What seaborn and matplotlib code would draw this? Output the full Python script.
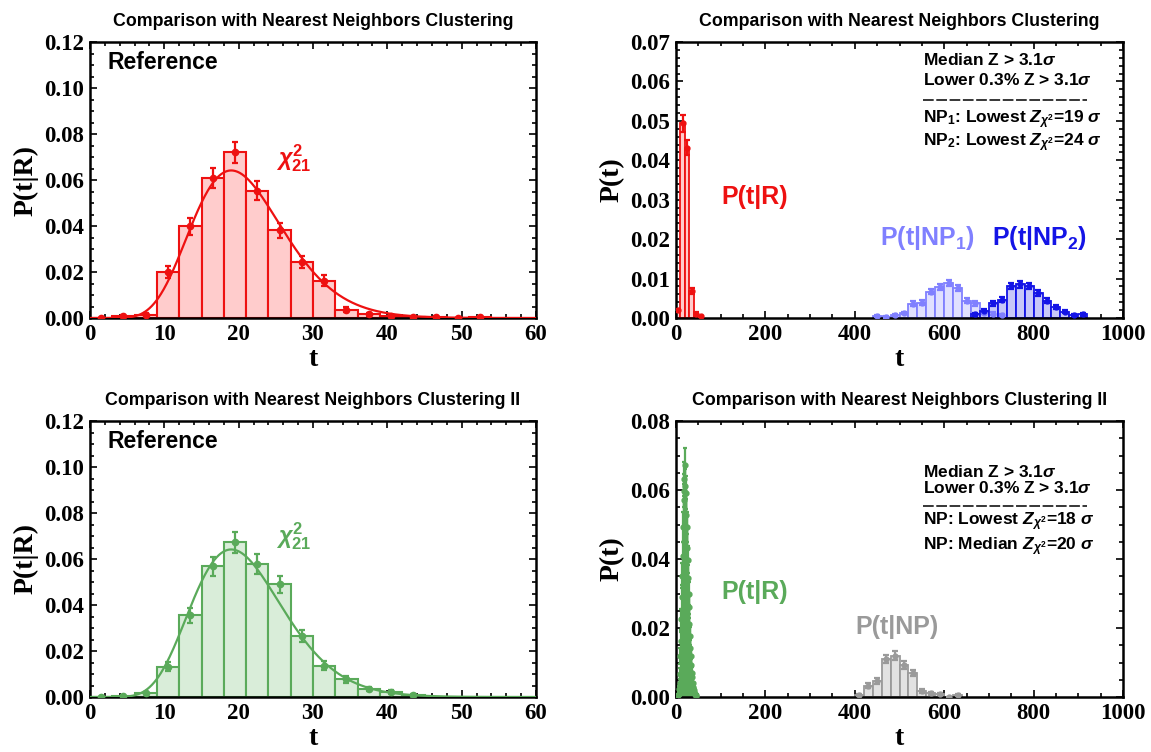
import numpy as np
import pandas as pd
import matplotlib
matplotlib.use("Agg")
import matplotlib.pyplot as plt
import seaborn as sns
from math import lgamma
from matplotlib.ticker import MultipleLocator, FormatStrFormatter

sns.set_theme(style="ticks")
plt.rcParams['font.family'] = ['Liberation Sans', 'DejaVu Sans']
plt.rcParams['mathtext.fontset'] = 'custom'
plt.rcParams['mathtext.rm'] = 'Liberation Sans:bold'
plt.rcParams['mathtext.it'] = 'Liberation Sans:italic:bold'
plt.rcParams['mathtext.bf'] = 'Liberation Sans:bold'
for key in ("text.color", "axes.labelcolor", "xtick.color", "ytick.color",
            "axes.edgecolor"):
    plt.rcParams[key] = "black"

# ---------------- data ----------------
# reference ensemble (clustering I), bins of width 3
ref1_centers = [1.5, 4.5, 7.5, 10.5, 13.5, 16.5, 19.5, 22.5, 25.5, 28.5, 31.5,
                34.5, 37.5, 40.5, 43.5, 46.5, 49.5, 52.5]
ref1_values = [0.0, 0.0008, 0.0015, 0.0198, 0.0398, 0.0608, 0.0720, 0.0553,
               0.0381, 0.0243, 0.0163, 0.0036, 0.0016, 0.0008, 0.0004, 0.0005,
               0.0, 0.0006]
ref1_errors = [0.0, 0.0003, 0.0005, 0.0026, 0.0035, 0.0043, 0.0047, 0.0041,
               0.0034, 0.0027, 0.0022, 0.0010, 0.0006, 0.0003, 0.0002, 0.0002,
               0.0, 0.0002]

# reference ensemble (clustering II), bins of width 3
ref2_centers = [1.5, 4.5, 7.5, 10.5, 13.5, 16.5, 19.5, 22.5, 25.5, 28.5, 31.5,
                34.5, 37.5, 40.5, 43.5]
ref2_values = [0.0, 0.0005, 0.0016, 0.0132, 0.0355, 0.0568, 0.0672, 0.0578,
               0.0490, 0.0265, 0.0136, 0.0078, 0.0034, 0.0022, 0.0009]
ref2_errors = [0.0, 0.0002, 0.0005, 0.0020, 0.0033, 0.0041, 0.0045, 0.0042,
               0.0038, 0.0028, 0.0020, 0.0015, 0.0009, 0.0007, 0.0004]

chi2_dof = 21

# test statistic distributions, clustering I (bins of width 10 / 20)
r_centers = [5, 15, 25, 35, 45, 55]
r_values = [0.0020, 0.0494, 0.0432, 0.0068, 0.0011, 0.0004]
r_errors = [0.0004, 0.0021, 0.0019, 0.0007, 0.0003, 0.0002]

np1_centers = [450, 470, 490, 510, 530, 550, 570, 590, 610, 630, 650, 670,
               690, 710, 730]
np1_values = [0.0005, 0.0003, 0.0008, 0.0012, 0.0036, 0.0039, 0.0067, 0.0079,
              0.0088, 0.0076, 0.0044, 0.0037, 0.0013, 0.0011, 0.0008]
np1_errors = [0.0002, 0.0002, 0.0003, 0.0003, 0.0006, 0.0006, 0.0007, 0.0008,
              0.0008, 0.0008, 0.0006, 0.0006, 0.0003, 0.0003, 0.0003]

np2_centers = [670, 690, 710, 730, 750, 770, 790, 810, 830, 850, 870, 890, 910]
np2_values = [0.0009, 0.0019, 0.0037, 0.0046, 0.0082, 0.0085, 0.0082, 0.0064,
              0.0044, 0.0029, 0.0016, 0.0008, 0.0009]
np2_errors = [0.0003, 0.0004, 0.0006, 0.0006, 0.0008, 0.0008, 0.0008, 0.0007,
              0.0006, 0.0005, 0.0004, 0.0003, 0.0003]

# test statistic distributions, clustering II
g_centers = list(range(5, 46))
g_values = [0.0005, 0.0010, 0.0022, 0.0040, 0.0068, 0.0118, 0.0162, 0.0225,
            0.0290, 0.0352, 0.0410, 0.0492, 0.0570, 0.0598, 0.0632, 0.0672,
            0.0612, 0.0592, 0.0528, 0.0492, 0.0432, 0.0398, 0.0345, 0.0300,
            0.0262, 0.0212, 0.0178, 0.0142, 0.0118, 0.0092, 0.0070, 0.0058,
            0.0041, 0.0030, 0.0025, 0.0020, 0.0015, 0.0010, 0.0008, 0.0005,
            0.0003]
g_errors = [0.0005, 0.0007, 0.0010, 0.0013, 0.0017, 0.0023, 0.0026, 0.0030,
            0.0034, 0.0037, 0.0040, 0.0044, 0.0047, 0.0048, 0.0049, 0.0050,
            0.0049, 0.0048, 0.0046, 0.0044, 0.0041, 0.0040, 0.0037, 0.0034,
            0.0032, 0.0029, 0.0026, 0.0024, 0.0022, 0.0019, 0.0017, 0.0015,
            0.0013, 0.0011, 0.0010, 0.0009, 0.0008, 0.0006, 0.0005, 0.0004,
            0.0003]

npg_centers = [410, 430, 450, 470, 490, 510, 530, 550, 570, 590, 610, 630]
npg_values = [0.0006, 0.0033, 0.0047, 0.0110, 0.0120, 0.0093, 0.0069, 0.0017,
              0.0011, 0.0008, 0.0, 0.0006]
npg_errors = [0.0003, 0.0007, 0.0008, 0.0012, 0.0012, 0.0011, 0.0009, 0.0005,
              0.0004, 0.0003, 0.0, 0.0003]

# ---------------- colours ----------------
RED, RED_FILL = "#ee1111", "#ffcccc"
GRN, GRN_FILL = "#5aaa5a", "#d9edd9"
LBL, LBL_FILL = "#8080ff", "#e0e0ff"
DBL, DBL_FILL = "#1414e6", "#c8c8f8"
GRY, GRY_FILL = "#9a9a9a", "#e2e2e2"


def draw_hist(ax, centers, values, errors, width, edge, fill, lw=1.5,
              ms=4.5, cap=2.5):
    c = np.asarray(centers, float)
    edges = [float(v) for v in np.append(c - width / 2, c[-1] + width / 2)]
    df = pd.DataFrame({"t": c, "p": np.asarray(values, float)})
    sns.histplot(data=df, x="t", weights="p", bins=edges, stat="count",
                 color=fill, alpha=1.0, edgecolor=edge, linewidth=lw, ax=ax,
                 zorder=2)
    ax.errorbar(c, values, yerr=errors, fmt="o", color=edge, ms=ms,
                elinewidth=1.6, capsize=cap, capthick=1.6, zorder=4)


def chi2_pdf(x, k):
    x = np.asarray(x, float)
    out = np.zeros_like(x)
    m = x > 0
    out[m] = np.exp((k / 2 - 1) * np.log(x[m]) - x[m] / 2
                    - (k / 2) * np.log(2) - lgamma(k / 2))
    return out


SERIF = dict(family="Liberation Serif", weight="bold")


def style_axes(ax, xmax, xmaj, xminor, ymax, ymaj, yminor, yfmt, ylabel):
    ax.set_xlim(0, xmax)
    ax.set_ylim(0, ymax)
    ax.xaxis.set_major_locator(MultipleLocator(xmaj))
    ax.xaxis.set_minor_locator(MultipleLocator(xminor))
    ax.yaxis.set_major_locator(MultipleLocator(ymaj))
    ax.yaxis.set_minor_locator(MultipleLocator(yminor))
    ax.yaxis.set_major_formatter(FormatStrFormatter(yfmt))
    ax.xaxis.set_major_formatter(FormatStrFormatter("%d"))
    ax.tick_params(which="both", direction="in", top=True, right=True,
                   color="black", width=1.2)
    ax.tick_params(which="major", length=5, pad=4)
    ax.tick_params(which="minor", length=3)
    for lab in ax.get_xticklabels() + ax.get_yticklabels():
        lab.set_fontfamily("Liberation Serif")
        lab.set_fontweight("bold")
        lab.set_fontsize(16.5)
    for sp in ax.spines.values():
        sp.set_visible(True)
        sp.set_linewidth(1.8)
        sp.set_color("black")
    ax.set_xlabel("t", fontdict=dict(SERIF, size=20), labelpad=2)
    ax.set_ylabel(ylabel, fontdict=dict(SERIF, size=20), labelpad=4)
    ax.grid(False)


fig = plt.figure(figsize=(11.51, 7.52), dpi=100)
W, H = 1151, 752


def axes_px(l, r, t, b):
    return fig.add_axes([l / W, 1 - b / H, (r - l) / W, (b - t) / H])


ax1 = axes_px(90, 536, 42, 318)
ax2 = axes_px(676, 1123, 42, 318)
ax3 = axes_px(90, 536, 421, 697)
ax4 = axes_px(676, 1123, 421, 697)

TITLE1 = "Comparison with Nearest Neighbors Clustering"
TITLE2 = "Comparison with Nearest Neighbors Clustering II"
title_kw = dict(fontsize=12.8, fontweight="bold", pad=11.5)
ref_kw = dict(fontsize=16.5, fontweight="bold", va="center", ha="left")

# --- top left: reference I with chi^2 fit ---
draw_hist(ax1, ref1_centers, ref1_values, ref1_errors, 3, RED, RED_FILL)
tgrid = np.linspace(0.01, 60, 600)
sns.lineplot(x=tgrid, y=chi2_pdf(tgrid, chi2_dof), color=RED, lw=1.6,
             ax=ax1, zorder=3)
style_axes(ax1, 60, 10, 2, 0.12, 0.02, 0.005, "%.2f", "P(t|R)")
ax1.set_title(TITLE1, **title_kw)
ax1.text(0.04, 0.927, "Reference", transform=ax1.transAxes, **ref_kw)
ax1.text(25.0, 0.0697, r"$\chi^2_{21}$", color=RED, fontsize=17,
         ha="left", va="center")

# --- bottom left: reference II with chi^2 fit ---
draw_hist(ax3, ref2_centers, ref2_values, ref2_errors, 3, GRN, GRN_FILL)
sns.lineplot(x=tgrid, y=chi2_pdf(tgrid, chi2_dof), color=GRN, lw=1.6,
             ax=ax3, zorder=3)
style_axes(ax3, 60, 10, 2, 0.12, 0.02, 0.005, "%.2f", "P(t|R)")
ax3.set_title(TITLE2, **title_kw)
ax3.text(0.04, 0.927, "Reference", transform=ax3.transAxes, **ref_kw)
ax3.text(25.0, 0.0700, r"$\chi^2_{21}$", color=GRN, fontsize=17,
         ha="left", va="center")

# --- top right: R vs NP1 / NP2 ---
draw_hist(ax2, r_centers, r_values, r_errors, 10, RED, RED_FILL, lw=1.3,
          ms=3.5, cap=2)
draw_hist(ax2, np1_centers, np1_values, np1_errors, 20, LBL, LBL_FILL,
          lw=1.3, ms=3.5, cap=2)
draw_hist(ax2, np2_centers, np2_values, np2_errors, 20, DBL, DBL_FILL,
          lw=1.3, ms=3.5, cap=2)
style_axes(ax2, 1000, 200, 50, 0.07, 0.01, 0.002, "%.2f", "P(t)")
ax2.set_title(TITLE1, **title_kw)
lab_kw = dict(fontsize=18, fontweight="bold", ha="center", va="center")
ax2.text(176, 0.0307, "P(t|R)", color=RED, **lab_kw)
ax2.text(562, 0.0203, r"P(t|NP$_1$)", color=LBL, **lab_kw)
ax2.text(814, 0.0203, r"P(t|NP$_2$)", color=DBL, **lab_kw)

ann_kw = dict(fontsize=12.5, fontweight="bold", ha="left", va="center",
              transform=ax2.transAxes)
DASH = (0, (7, 1.7))
ax2.text(0.553, 0.935, r"Median Z > 3.1$\sigma$", **ann_kw)
ax2.text(0.553, 0.862, r"Lower 0.3% Z > 3.1$\sigma$", **ann_kw)
ax2.plot([0.553, 0.92], [0.790, 0.790], transform=ax2.transAxes,
         color="black", lw=1.1, ls=DASH)
ax2.text(0.553, 0.717, r"NP$_1$: Lowest $Z_{\chi^2}$=19 $\sigma$", **ann_kw)
ax2.text(0.553, 0.634, r"NP$_2$: Lowest $Z_{\chi^2}$=24 $\sigma$", **ann_kw)

# --- bottom right: R vs NP ---
draw_hist(ax4, g_centers, g_values, g_errors, 1, GRN, GRN_FILL, lw=1.0,
          ms=3.5, cap=1.5)
draw_hist(ax4, npg_centers, npg_values, npg_errors, 20, GRY, GRY_FILL,
          lw=1.3, ms=3.5, cap=2)
style_axes(ax4, 1000, 200, 50, 0.08, 0.02, 0.005, "%.2f", "P(t)")
ax4.set_title(TITLE2, **title_kw)
ax4.text(176, 0.0304, "P(t|R)", color=GRN, **lab_kw)
ax4.text(494, 0.0203, "P(t|NP)", color=GRY, **lab_kw)

ann_kw["transform"] = ax4.transAxes
ax4.text(0.553, 0.816, r"Median Z > 3.1$\sigma$", **ann_kw)
ax4.text(0.553, 0.757, r"Lower 0.3% Z > 3.1$\sigma$", **ann_kw)
ax4.plot([0.553, 0.92], [0.692, 0.692], transform=ax4.transAxes,
         color="black", lw=1.1, ls=DASH)
ax4.text(0.553, 0.635, r"NP: Lowest $Z_{\chi^2}$=18 $\sigma$", **ann_kw)
ax4.text(0.553, 0.545, r"NP: Median $Z_{\chi^2}$=20 $\sigma$", **ann_kw)

fig.savefig("out.png", dpi=100)
